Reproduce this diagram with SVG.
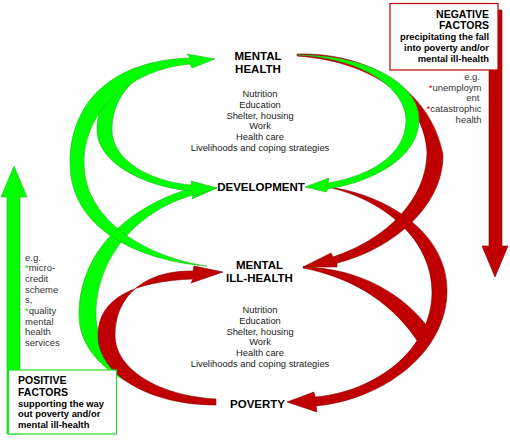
<svg xmlns="http://www.w3.org/2000/svg" width="510" height="442" viewBox="0 0 510 442">
<style>
.g{fill:#00ff00;stroke:#2fae2f;stroke-width:0.6}
.r{fill:#c00000;stroke:#8a0000;stroke-width:0.6}
.lbl{font-family:"Liberation Sans",Arial,sans-serif;font-weight:bold;font-size:11.5px;fill:#000;text-anchor:middle}
.lst{font-family:"Liberation Sans",Arial,sans-serif;font-size:9.4px;fill:#222;text-anchor:middle}
.ft{font-family:"Liberation Sans",Arial,sans-serif;font-weight:bold;font-size:10.5px;fill:#000}
.fs{font-family:"Liberation Sans",Arial,sans-serif;font-weight:bold;font-size:9.4px;fill:#000}
.eg{font-family:"Liberation Sans",Arial,sans-serif;font-size:9.5px;fill:#333}
.sr{fill:#e00000}
.sg{fill:#00dd00}
</style>
<rect width="510" height="442" fill="#fff"/>
<g id="connectors">
  <path id="green-c" class="g" d="M212,404 C150,401 79,370 79,315 C79,250 130,206 192,188 L191,184 L217,188 L192,199 L193,195 C140,210 96,255 96,315 C96,365 150,398 212,404 Z"/>
  <path id="green-b" class="g" d="M160,66 C115,78 97,100 97,130 C97,165 150,188 192,191 L193,196 L217,188 L191,181 L192,185 C150,182 112,160 112,130 C112,100 130,78 160,66 Z"/>
  <path id="green-a" class="g" d="M207,266 C150,262 70,235 70,163 C70,100 115,60 190,58 L187,54 L215,59 L192,68 L190,64 C130,70 84,110 84,163 C84,222 150,258 207,266 Z"/>
  <path id="red-1" class="r" d="M216,405 C150,405 98,375 98,335 C98,298 135,281 193,279 L191,283 L223,272 L194,266 L193,271 C145,270 115,296 115,335 C115,370 160,396 216,399 Z"/>
  <path id="red-4" class="r" d="M303,267 C360,268 405,295 430,330 L420,345 C395,305 355,278 303,268 Z"/>
  <path id="red-3" class="r" d="M328,187 C390,195 447,235 447,290 C447,355 380,400 316,406 L317,412 L287,402 L314,392 L315,397 C375,392 432,350 432,292 C432,240 385,200 328,187 Z"/>
  <path id="red-2" class="r" d="M297,54 C375,52 432,95 443,155 C443,208 390,250 337,263 L337,267 L303,267 L331,253 L333,257 C385,240 427,200 427,152 C425,105 380,62 297,56 Z"/>
  <path id="green-d" class="g" d="M297,55 C370,55 420,85 419,120 C418,160 370,182 328,189 L326,192 L305,187 L329,178 L328,183 C370,176 406,155 406,120 C406,90 365,58 297,55 Z"/>
  <path id="neg-arrow" class="r" d="M489,10 H502 V246 H508 L495,277 L482,246 H489 Z"/>
  <path id="pos-arrow" class="g" d="M14,166 L27,197 H20 V434 H7 V197 H1 Z"/>
</g>
<g id="mental-health">
  <text class="lbl" x="258" y="60">MENTAL</text>
  <text class="lbl" x="258" y="72.7">HEALTH</text>
  <text class="lst" x="260" y="97.3">Nutrition</text>
  <text class="lst" x="260" y="108">Education</text>
  <text class="lst" x="260" y="118.7">Shelter, housing</text>
  <text class="lst" x="260" y="129.4">Work</text>
  <text class="lst" x="260" y="140.1">Health care</text>
  <text class="lst" x="260" y="150.8">Livelihoods and coping strategies</text>
</g>
<g id="development">
  <text class="lbl" x="261" y="190.7">DEVELOPMENT</text>
</g>
<g id="mental-ill-health">
  <text class="lbl" x="259.5" y="269.3">MENTAL</text>
  <text class="lbl" x="259.5" y="282.3">ILL-HEALTH</text>
  <text class="lst" x="260" y="313.3">Nutrition</text>
  <text class="lst" x="260" y="324">Education</text>
  <text class="lst" x="260" y="334.7">Shelter, housing</text>
  <text class="lst" x="260" y="345.4">Work</text>
  <text class="lst" x="260" y="356.1">Health care</text>
  <text class="lst" x="260" y="366.8">Livelihoods and coping strategies</text>
</g>
<g id="poverty">
  <text class="lbl" x="257.5" y="408.3">POVERTY</text>
</g>
<g id="negative-factors">
  <rect x="390" y="3.5" width="108" height="66.5" fill="#fff" stroke="#c00000" stroke-width="1.2"/>
  <text class="ft" x="489" y="17.5" text-anchor="end">NEGATIVE</text>
  <text class="ft" x="489" y="29" text-anchor="end">FACTORS</text>
  <text class="fs" x="489" y="39.5" text-anchor="end">precipitating the fall</text>
  <text class="fs" x="489" y="50.5" text-anchor="end">into poverty and/or</text>
  <text class="fs" x="489" y="61.5" text-anchor="end">mental ill-health</text>
  <text class="eg" x="480" y="80" text-anchor="end">e.g.</text>
  <text class="eg" x="481.5" y="90.7" text-anchor="end"><tspan class="sr">*</tspan>unemploym</text>
  <text class="eg" x="479.5" y="101.3" text-anchor="end">ent</text>
  <text class="eg" x="481.5" y="112" text-anchor="end"><tspan class="sr">*</tspan>catastrophic</text>
  <text class="eg" x="481.5" y="122.7" text-anchor="end">health</text>
</g>
<g id="positive-factors">
  <rect x="8.5" y="370" width="108" height="64" fill="#fff" stroke="#22dd22" stroke-width="1.2"/>
  <text class="ft" x="18" y="384">POSITIVE</text>
  <text class="ft" x="18" y="395.5">FACTORS</text>
  <text class="fs" x="18" y="406.5">supporting the way</text>
  <text class="fs" x="18" y="417">out poverty and/or</text>
  <text class="fs" x="18" y="427.5">mental ill-health</text>
  <text class="eg" x="25" y="260.7">e.g.</text>
  <text class="eg" x="25" y="271.3"><tspan class="sg">*</tspan>micro-</text>
  <text class="eg" x="25" y="282">credit</text>
  <text class="eg" x="25" y="292.7">scheme</text>
  <text class="eg" x="25" y="303.3">s,</text>
  <text class="eg" x="25" y="314"><tspan class="sg">*</tspan>quality</text>
  <text class="eg" x="25" y="324.7">mental</text>
  <text class="eg" x="25" y="335.3">health</text>
  <text class="eg" x="25" y="346">services</text>
</g>
</svg>
